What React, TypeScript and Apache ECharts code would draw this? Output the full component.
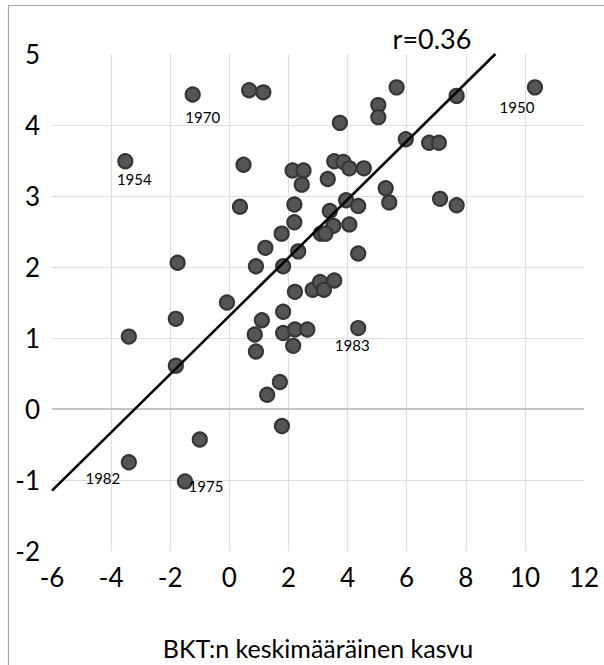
import { useEffect, useRef } from "react";
import * as echarts from "echarts";

// BKT:n keskimääräinen kasvu (x) vs. arvo (y)
const gdpGrowth = [
  -1.24, 0.67, 1.15, -3.52, 0.48, 2.14, 2.51, 2.45, 0.36, 2.2,
  2.2, 5.66, 7.69, 10.34, 5.04, 5.04, 3.74, 5.97, 6.76, 7.09,
  3.55, 3.86, 4.06, 4.55, 3.33, 5.29, 5.41, 7.13, 7.69, 3.95,
  4.36, 3.4, 3.52, 4.06, 3.1, 3.25, 2.33, 4.36, 1.77, 1.22,
  -1.75, 0.9, 1.82, 2.22, 2.82, 3.07, 3.2, 3.55, -0.08, -1.81,
  1.1, 1.82, -3.4, 0.86, 1.82, 2.22, 2.64, 4.36, 2.16, 0.9,
  -1.81, 1.71, 1.28, 1.78, -1.0, -3.4, -1.5,
];
const otherValue = [
  4.43, 4.49, 4.46, 3.49, 3.44, 3.36, 3.36, 3.16, 2.85, 2.88,
  2.63, 4.53, 4.41, 4.53, 4.28, 4.11, 4.03, 3.8, 3.75, 3.75,
  3.49, 3.48, 3.39, 3.39, 3.24, 3.11, 2.91, 2.96, 2.87, 2.94,
  2.86, 2.79, 2.58, 2.6, 2.47, 2.47, 2.22, 2.19, 2.47, 2.27,
  2.06, 2.01, 2.01, 1.65, 1.68, 1.79, 1.68, 1.81, 1.5, 1.27,
  1.25, 1.37, 1.02, 1.05, 1.07, 1.12, 1.12, 1.14, 0.89, 0.81,
  0.61, 0.38, 0.2, -0.24, -0.43, -0.75, -1.02,
];
const pointYears = [
  "1970", "", "", "1954", "", "", "", "", "", "",
  "", "", "", "1950", "", "", "", "", "", "",
  "", "", "", "", "", "", "", "", "", "",
  "", "", "", "", "", "", "", "", "", "",
  "", "", "", "", "", "", "", "", "", "",
  "", "", "", "", "", "", "", "1983", "", "",
  "", "", "", "", "", "1982", "1975",
];
const trendX = [-6, 9.0];
const trendY = [-1.15, 5.0];
const rText = "r=0.36";
const xAxisTitle = "BKT:n keskimääräinen kasvu";
const xMin = -6, xMax = 12, xStep = 2;
const yMin = -2, yMax = 5, yStep = 1;

// layout of year labels (offset of label centre from point centre)
const labelOffsets: Record<string, [number, number]> = {
  "1970": [10, 23],
  "1954": [9, 18],
  "1950": [-18, 20],
  "1983": [-6, 17],
  "1982": [-26, 16],
  "1975": [21, 5],
};

const FONT = "Lato, 'Open Sans', sans-serif";

export default function App() {
  const ref = useRef<HTMLDivElement>(null);
  useEffect(() => {
    if (!ref.current) return;
    const chart = echarts.init(ref.current, undefined, { renderer: "svg" });
    const grid = "#dedede";
    const xLines = Math.round((xMax - xMin) / xStep) + 1;
    const yLines = Math.round((yMax - yMin) / yStep) + 1;
    const xColors = Array.from({ length: xLines }, (_, i) =>
      i === 0 || i === xLines - 1 ? "rgba(0,0,0,0)" : grid
    );
    const yColors = Array.from({ length: yLines }, (_, i) =>
      i === 0 || i === yLines - 1 ? "rgba(0,0,0,0)" : grid
    );
    const scatterData = gdpGrowth.map((x, i) => {
      const yr = pointYears[i];
      const item: any = { value: [x, otherValue[i]] };
      if (yr) {
        item.label = {
          show: true,
          formatter: yr,
          position: "inside",
          offset: labelOffsets[yr] || [0, 18],
          color: "#000",
          fontSize: 15,
          fontFamily: FONT,
        };
      }
      return item;
    });
    chart.setOption({
      animation: false,
      backgroundColor: "#fff",
      textStyle: { fontFamily: FONT },
      grid: { left: 52, right: 20, top: 54, bottom: 112, containLabel: false },
      xAxis: {
        type: "value",
        min: xMin,
        max: xMax,
        interval: xStep,
        axisLine: { show: false },
        axisTick: { show: false },
        axisLabel: { color: "#000", fontSize: 26, fontFamily: FONT, margin: 13 },
        splitLine: { show: true, lineStyle: { color: xColors, width: 1.2 } },
        name: xAxisTitle,
        nameLocation: "middle",
        nameGap: 84,
        nameTextStyle: { color: "#000", fontSize: 25, fontFamily: FONT },
      },
      yAxis: {
        type: "value",
        min: yMin,
        max: yMax,
        interval: yStep,
        axisLine: { show: false },
        axisTick: { show: false },
        axisLabel: { color: "#000", fontSize: 26, fontFamily: FONT, margin: 12 },
        splitLine: { show: true, lineStyle: { color: yColors, width: 1.2 } },
      },
      graphic: [
        {
          type: "rect",
          shape: { x: 8.5, y: 5.5, width: 620, height: 700 },
          style: { fill: "none", stroke: "#a6a6a6", lineWidth: 1.2 },
          silent: true,
        },
        {
          type: "text",
          x: 432,
          y: 38,
          style: {
            text: rText,
            fill: "#000",
            fontSize: 27,
            fontFamily: FONT,
            align: "center",
            verticalAlign: "middle",
          },
        },
      ],
      series: [
        {
          type: "scatter",
          data: scatterData,
          symbol: "circle",
          symbolSize: 14,
          itemStyle: {
            color: "#555555",
            borderColor: "#363636",
            borderWidth: 2.2,
            opacity: 1,
          },
          z: 3,
          markLine: {
            silent: true,
            symbol: "none",
            label: { show: false },
            lineStyle: { color: "#c4c4c4", width: 1.8, type: "solid" },
            data: [{ yAxis: 0 }],
            z: 1,
          },
        },
        {
          type: "line",
          data: trendX.map((x, i) => [x, trendY[i]]),
          symbol: "none",
          lineStyle: { color: "#000", width: 2.6 },
          z: 4,
        },
      ],
    });
    return () => chart.dispose();
  }, []);
  return (
    <div
      ref={ref}
      style={{ position: "absolute", left: 0, top: 0, width: 604, height: 665 }}
    />
  );
}
